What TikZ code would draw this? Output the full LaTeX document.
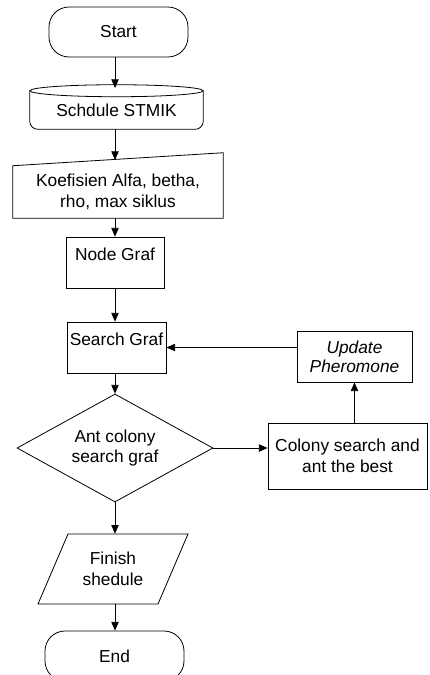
\documentclass[tikz,border=0pt]{standalone}
\usepackage{fontspec}
\setmainfont{Liberation Sans}
\usetikzlibrary{shapes.geometric,arrows.meta,calc}

\tikzset{
  every node/.style={font=\fontsize{13}{15.5}\selectfont, align=center},
  outline/.style={line width=0.6pt},
  arr/.style={line width=0.6pt,-{Triangle[length=6.5pt,width=5.5pt]}},
  term/.style={draw,line width=0.6pt,rounded corners=15pt,minimum width=104.25pt,minimum height=37.5pt},
  proc/.style={draw,line width=0.6pt,rectangle,inner sep=1.5pt},
  decide/.style={draw,line width=0.6pt,diamond,aspect=1.8,inner sep=0pt,minimum width=147pt,minimum height=81pt},
  frame/.style={inner sep=0pt},
}

\begin{document}
\begin{tikzpicture}[x=0.75pt,y=-0.75pt]
  \useasboundingbox (0,0) rectangle (429,675);
  \coordinate (axis) at (115,0);
  % Start and end
  \node[term] (start) at (118.5,32) {Start};
  \node[term] (stop) at (114.5,656) {End};
  % Stored schedule
  \node[frame,minimum width=129.75pt,minimum height=28.5pt] (sched) at (116.5,110) {Schdule STMIK};
  \draw[outline] (sched.north) ellipse [x radius=64.9pt,y radius=4.5pt];
  \draw[outline,rounded corners=6pt] (sched.north west) -- (sched.south west) -- (sched.south east) -- (sched.north east);
  \coordinate (sched top) at (115,88);
  % Manual input
  \node[frame,minimum width=157.5pt,minimum height=39pt] (koef) at (118,192) {Koefisien Alfa, betha,\\rho, max siklus};
  \draw[outline] (koef.south west) -- (koef.north west) -- ($(koef.north east)+(0,-13)$) -- (koef.south east) -- cycle;
  \coordinate (koef top) at (115,160);
  % Processes
  \node[proc,minimum width=73.5pt,minimum height=38.25pt,text depth=12pt] (ngraf) at (115,262.5) {Node Graf};
  \node[proc,minimum width=74.25pt,minimum height=38.25pt,text depth=12pt] (search) at (116.5,347.5) {Search Graf};
  \node[proc,minimum width=86.25pt,minimum height=38.25pt,font=\fontsize{13}{14.5}\selectfont\itshape] (update) at (354.5,356.5) {Update\\Pheromone};
  \node[proc,minimum width=119.25pt,minimum height=49.5pt] (colony) at (347.5,456) {Colony search and\\ant the best};
  % Decision
  \node[decide] (dec) at (115,448) {Ant colony\\search graf};
  % Output
  \node[frame,minimum height=52.5pt] (finish) at (113,569) {Finish\\shedule};
  \draw[outline] ($(finish.center)+(-45,-35)$) -- ++(120,0) -- ($(finish.center)+(45,35)$) -- ++(-120,0) -- cycle;
  % Flow
  \draw[arr] (start.south -| axis) -- (sched top);
  \draw[arr] (sched.south -| axis) -- (koef top);
  \draw[arr] (koef.south -| axis) -- (ngraf.north);
  \draw[arr] (ngraf.south -| axis) -- (search.north -| axis);
  \draw[arr] (search.south -| axis) -- (dec.north);
  \draw[arr] (dec.east) -- (colony.west |- dec.east);
  \draw[arr] (colony.north -| update.south) -- (update.south);
  \draw[arr] (update.west |- search.east) -- (search.east);
  \draw[arr] (dec.south) -- (finish.north -| axis);
  \draw[arr] (finish.south -| axis) -- (stop.north -| axis);
\end{tikzpicture}
\end{document}
